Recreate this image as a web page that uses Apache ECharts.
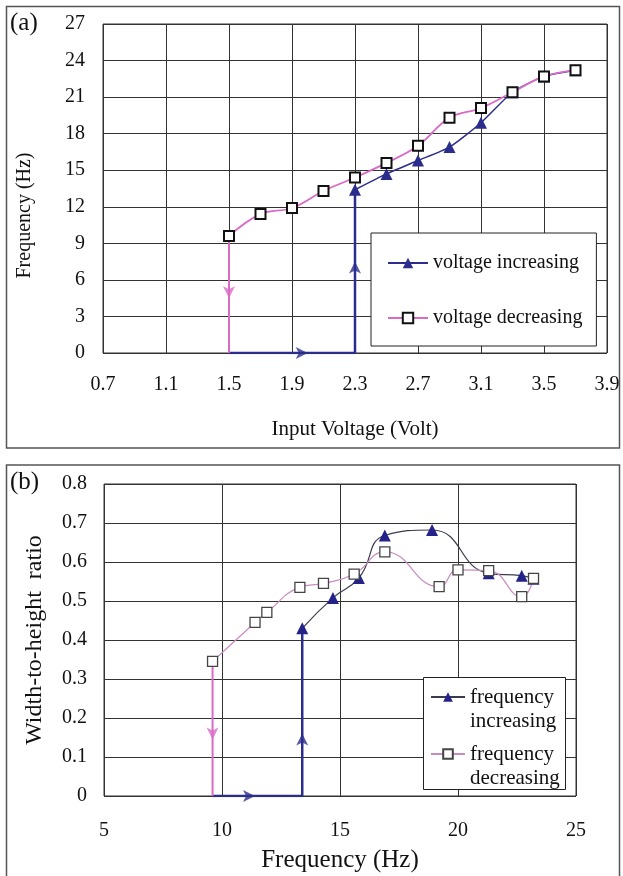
<!DOCTYPE html>
<html>
<head>
<meta charset="utf-8">
<title>Frequency and width-to-height ratio</title>
<script src="https://cdn.jsdelivr.net/npm/echarts@6/dist/echarts.min.js"></script>
<style>
html, body { margin: 0; padding: 0; background: #fff; }
#chart { width: 623px; height: 876px; }
</style>
</head>
<body>
<div id="chart"></div>
<script>
// (a) input voltage -> frequency
var voltInc = [2.3, 2.5, 2.7, 2.9, 3.1, 3.3, 3.5, 3.7];
var freqInc = [13.4, 14.7, 15.8, 16.9, 18.9, 21.4, 22.7, 23.2];
var voltDec = [1.5, 1.7, 1.9, 2.1, 2.3, 2.5, 2.7, 2.9, 3.1, 3.3, 3.5, 3.7];
var freqDec = [9.6, 11.4, 11.9, 13.3, 14.4, 15.6, 17.0, 19.3, 20.1, 21.4, 22.7, 23.2];
// jump paths in (a)
var jumpIncVolt = [1.5, 2.3, 2.3];
var jumpIncFreq = [0, 0, 13.4];
var jumpDecVolt = [1.5, 1.5];
var jumpDecFreq = [9.6, 0];
// arrow heads in (a): [x, y, direction]
var arrowsIncA = [[2.0, 0, 'right'], [2.3, 7.5, 'up']];
var arrowsDecA = [[1.5, 4.5, 'down']];

// (b) frequency -> width-to-height ratio
var freqIncB = [13.4, 14.7, 15.8, 16.9, 18.9, 21.3, 22.7, 23.2];
var ratioInc = [0.43, 0.508, 0.559, 0.668, 0.682, 0.571, 0.565, 0.557];
var freqDecB = [9.6, 11.4, 11.9, 13.3, 14.3, 15.6, 16.9, 19.2, 20.0, 21.3, 22.7, 23.2];
var ratioDec = [0.345, 0.445, 0.471, 0.535, 0.545, 0.569, 0.626, 0.537, 0.580, 0.578, 0.511, 0.558];
// jump paths in (b)
var jumpIncFreqB = [9.6, 13.4, 13.4];
var jumpIncRatio = [0, 0, 0.43];
var jumpDecFreqB = [9.6, 9.6];
var jumpDecRatio = [0.345, 0];
var arrowsIncB = [[11.4, 0, 'right'], [13.4, 0.16, 'up']];
var arrowsDecB = [[9.6, 0.145, 'down']];

var FONT = '"Liberation Serif", "DejaVu Serif", serif';
var NAVY = '#2b2d8c';
var PINK = '#d96bc8';
var rot = { up: 0, right: -90, down: 180 };

function zip(xs, ys) {
  return xs.map(function (x, i) { return [x, ys[i]]; });
}

function arrowSeries(data, color, g) {
  return {
    type: 'scatter', xAxisIndex: g, yAxisIndex: g, z: 3,
    symbol: 'arrow', symbolSize: [9, 12],
    symbolRotate: function (v) { return rot[v[2]]; },
    itemStyle: { color: color },
    silent: true, legendHoverLink: false,
    data: data
  };
}

// two-line legend label, blank first line keeps the icon beside the top line
function twoLines(n) {
  return '\n' + n.replace(' ', '\n');
}

var chart = echarts.init(document.getElementById('chart'));

var axisLabel = { fontFamily: FONT, fontSize: 20, color: '#111' };
var grid = { show: true, borderColor: '#333', borderWidth: 1 };
var split = { show: true, lineStyle: { color: '#333', width: 1 } };
var legendB = {
  orient: 'vertical', padding: 0, left: 430,
  itemWidth: 34, itemHeight: 12,
  formatter: twoLines,
  textStyle: { fontFamily: FONT, fontSize: 21, lineHeight: 24, color: '#111' }
};

chart.setOption({
  animation: false,
  backgroundColor: '#fff',
  grid: [
    Object.assign({ left: 103, top: 24, width: 504, height: 329 }, grid),
    Object.assign({ left: 104, top: 484, width: 472, height: 312 }, grid)
  ],
  xAxis: [{
    gridIndex: 0, type: 'value', min: 0.7, max: 3.9, interval: 0.4,
    axisLine: { show: false }, axisTick: { show: false }, splitLine: split,
    axisLabel: Object.assign({ margin: 22, formatter: function (v) { return v.toFixed(1); } }, axisLabel),
    name: 'Input Voltage (Volt)', nameLocation: 'middle', nameGap: 66,
    nameTextStyle: { fontFamily: FONT, fontSize: 21, color: '#111' }
  }, {
    gridIndex: 1, type: 'value', min: 5, max: 25, interval: 5,
    axisLine: { show: false }, axisTick: { show: false }, splitLine: split,
    axisLabel: Object.assign({ margin: 25 }, axisLabel),
    name: 'Frequency (Hz)', nameLocation: 'middle', nameGap: 52,
    nameTextStyle: { fontFamily: FONT, fontSize: 25, color: '#111' }
  }],
  yAxis: [{
    gridIndex: 0, type: 'value', min: 0, max: 27, interval: 3,
    axisLine: { show: false }, axisTick: { show: false }, splitLine: split,
    axisLabel: Object.assign({ margin: 18 }, axisLabel),
    name: 'Frequency (Hz)', nameLocation: 'middle', nameGap: 68,
    nameTextStyle: { fontFamily: FONT, fontSize: 20, color: '#111', padding: [0, 54, 0, 0] }
  }, {
    gridIndex: 1, type: 'value', min: 0, max: 0.8, interval: 0.1,
    axisLine: { show: false }, axisTick: { show: false }, splitLine: split,
    axisLabel: Object.assign({ margin: 17, formatter: function (v) { return v === 0 ? '0' : v.toFixed(1); } }, axisLabel),
    name: 'Width-to-height  ratio', nameLocation: 'middle', nameGap: 57,
    nameTextStyle: { fontFamily: FONT, fontSize: 24, color: '#111' }
  }],
  legend: [{
    left: 371, top: 233, orient: 'vertical',
    data: ['voltage increasing', 'voltage decreasing'],
    itemWidth: 40, itemHeight: 13, itemGap: 35,
    padding: [20, 14, 18, 16],
    backgroundColor: '#fff', borderColor: '#222', borderWidth: 1,
    textStyle: { fontFamily: FONT, fontSize: 20, color: '#111' }
  },
  Object.assign({ top: 661, data: ['frequency increasing'] }, legendB),
  Object.assign({ top: 718, data: ['frequency decreasing'] }, legendB)
  ],
  graphic: [
    { type: 'rect', silent: true, z: -10,
      shape: { x: 6.5, y: 6.5, width: 613, height: 441.5 },
      style: { fill: 'none', stroke: '#555', lineWidth: 1.5 } },
    { type: 'rect', silent: true, z: -10,
      shape: { x: 6.5, y: 465, width: 613, height: 430 },
      style: { fill: 'none', stroke: '#555', lineWidth: 1.5 } },
    { type: 'rect', silent: true, z: 3,
      shape: { x: 423.5, y: 677.5, width: 142, height: 112 },
      style: { fill: '#fff', stroke: '#222', lineWidth: 1 } },
    { type: 'text', left: 10, top: 11, silent: true,
      style: { text: '(a)', font: '25px ' + FONT, fill: '#111' } },
    { type: 'text', left: 10, top: 470, silent: true,
      style: { text: '(b)', font: '25px ' + FONT, fill: '#111' } }
  ],
  series: [
    // (a)
    { type: 'line', xAxisIndex: 0, yAxisIndex: 0, z: 1, symbol: 'none', silent: true,
      lineStyle: { color: NAVY, width: 2.5 }, data: zip(jumpIncVolt, jumpIncFreq) },
    { type: 'line', xAxisIndex: 0, yAxisIndex: 0, z: 1, symbol: 'none', silent: true,
      lineStyle: { color: PINK, width: 2 }, data: zip(jumpDecVolt, jumpDecFreq) },
    arrowSeries(arrowsIncA, NAVY, 0),
    arrowSeries(arrowsDecA, PINK, 0),
    { name: 'voltage increasing', type: 'line', xAxisIndex: 0, yAxisIndex: 0,
      smooth: 0.2, symbol: 'triangle', symbolSize: 12,
      lineStyle: { color: NAVY, width: 1.5 }, itemStyle: { color: NAVY },
      data: zip(voltInc, freqInc) },
    { name: 'voltage decreasing', type: 'line', xAxisIndex: 0, yAxisIndex: 0,
      smooth: 0.4, symbol: 'rect', symbolSize: 10,
      lineStyle: { color: PINK, width: 1.8 },
      itemStyle: { color: '#fff', borderColor: '#111', borderWidth: 2 },
      data: zip(voltDec, freqDec) },
    // (b)
    { type: 'line', xAxisIndex: 1, yAxisIndex: 1, z: 1, symbol: 'none', silent: true,
      lineStyle: { color: NAVY, width: 2.5 }, data: zip(jumpIncFreqB, jumpIncRatio) },
    { type: 'line', xAxisIndex: 1, yAxisIndex: 1, z: 1, symbol: 'none', silent: true,
      lineStyle: { color: PINK, width: 2 }, data: zip(jumpDecFreqB, jumpDecRatio) },
    arrowSeries(arrowsIncB, NAVY, 1),
    arrowSeries(arrowsDecB, PINK, 1),
    { name: 'frequency increasing', type: 'line', xAxisIndex: 1, yAxisIndex: 1,
      smooth: 0.5, symbol: 'triangle', symbolSize: 12,
      lineStyle: { color: '#3a3a4a', width: 1.2 }, itemStyle: { color: '#23238a' },
      data: zip(freqIncB, ratioInc) },
    { name: 'frequency decreasing', type: 'line', xAxisIndex: 1, yAxisIndex: 1,
      smooth: 0.5, symbol: 'rect', symbolSize: 10,
      lineStyle: { color: '#c98cc0', width: 1.2 },
      itemStyle: { color: '#fff', borderColor: '#444', borderWidth: 1.3 },
      data: zip(freqDecB, ratioDec) }
  ]
});
</script>
</body>
</html>
